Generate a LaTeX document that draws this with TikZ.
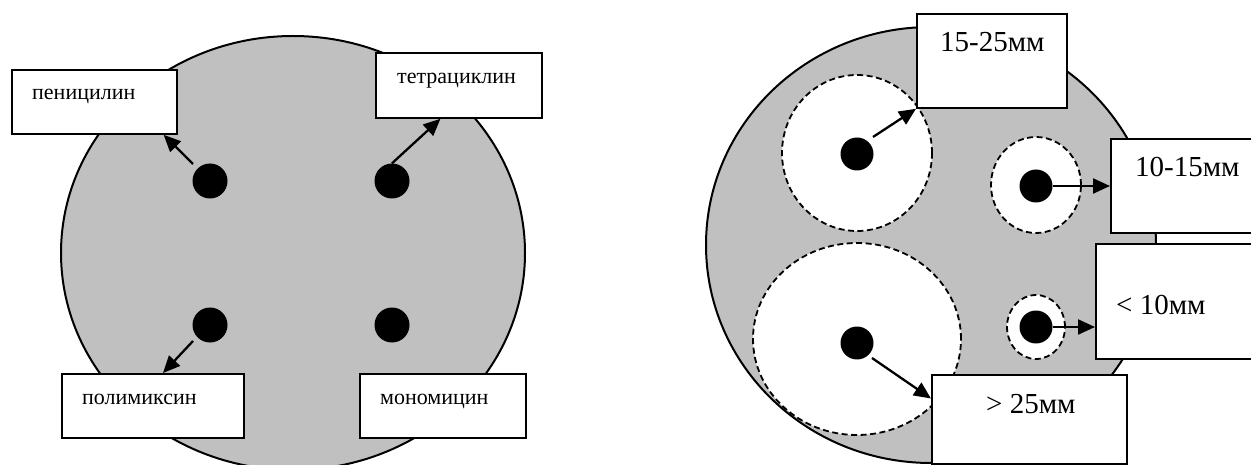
\documentclass[tikz,border=0pt]{standalone}
\usepackage{fontspec}
\setmainfont{Liberation Serif}
\usetikzlibrary{arrows.meta,calc}
\definecolor{dishgray}{HTML}{C0C0C0}
\begin{document}
\begin{tikzpicture}[x=1pt,y=-1pt,
  dish/.style={draw=black,line width=2pt,fill=dishgray},
  zone/.style={draw=black,fill=white,line width=1.8pt,dash pattern=on 6pt off 3.5pt},
  disc/.style={circle,fill=black,inner sep=0pt,minimum size=#1},
  labelbox/.style={draw=black,fill=white,line width=1.8pt,rectangle,inner sep=0pt,anchor=north west},
  small/.style={anchor=base west,inner sep=0pt,font=\fontsize{22}{26}\selectfont},
  big/.style={anchor=base west,inner sep=0pt,font=\fontsize{29}{34}\selectfont},
  pointer/.style={line width=2.3pt,-{Triangle[length=17pt,width=15pt]}}
]
\clip (0,0) rectangle (1251,465);

% ---------- left dish: four antibiotic discs ----------
\draw[dish] (293,253) ellipse [x radius=232pt, y radius=217pt];

\node[disc=35pt] (d1) at (210,181) {};
\node[disc=35pt] (d2) at (392,181) {};
\node[disc=35pt] (d3) at (210,325) {};
\node[disc=35pt] (d4) at (392,325) {};

\node[labelbox,minimum width=165pt,minimum height=64pt] (pen) at (11,69) {};
\node[labelbox,minimum width=166pt,minimum height=65pt] (tet) at (375,52) {};
\node[labelbox,minimum width=182pt,minimum height=64pt] (pol) at (61,373) {};
\node[labelbox,minimum width=166pt,minimum height=64pt] (mon) at (359,373) {};

\node[small] (tpen) at (32,100) {пеницилин};
\node[small] (ttet) at (397,84) {тетрациклин};
\node[small] (tpol) at (82,404) {полимиксин};
\node[small] (tmon) at (380,404) {мономицин};

\coordinate (s1) at ($(d1)+(-17,-17)$);
\coordinate (e1) at ($(pen.south west)!0.915!(pen.south east)$);
\coordinate (e2) at ($(tet.south west)!0.39!(tet.south east)$);
\coordinate (s3) at ($(d3)+(-17,16)$);
\coordinate (e3) at ($(pol.north west)!0.555!(pol.north east)$);
\draw[pointer] (s1) -- (e1);
\draw[pointer] (d2.north) -- (e2);
\draw[pointer] (s3) -- (e3);

% ---------- right dish: inhibition zones ----------
\draw[dish] (931,245) ellipse [x radius=225pt, y radius=218pt];

\draw[zone] (857,153) ellipse [x radius=75pt, y radius=78pt];
\draw[zone] (1036,185) ellipse [x radius=45pt, y radius=48pt];
\draw[zone] (857,339) ellipse [x radius=104pt, y radius=96pt];
\draw[zone] (1036,327) ellipse [x radius=29pt, y radius=32pt];

\node[disc=33pt] (d5) at (857,154) {};
\node[disc=33pt] (d6) at (1036,186) {};
\node[disc=33pt] (d7) at (857,343) {};
\node[disc=33pt] (d8) at (1036,327) {};

\node[labelbox,minimum width=150pt,minimum height=94pt] (b1) at (916,13) {};
\node[labelbox,minimum width=170pt,minimum height=94pt] (b2) at (1110,138) {};
\node[labelbox,minimum width=180pt,minimum height=115pt] (b3) at (1095,243) {};
\node[labelbox,minimum width=195pt,minimum height=89pt] (b4) at (931,374) {};

\node[big] (t1) at (940,52) {15-25мм};
\node[big] (t2) at (1135,177) {10-15мм};
\node[big] (t3) at (1116,314) {< 10мм};
\node[big] (t4) at (986,413) {> 25мм};

\coordinate (s5) at ($(d5)+(16,-17)$);
\coordinate (s7) at ($(d7)+(15,15)$);
\coordinate (e7) at ($(b4.north west)!0.27!(b4.south west)$);
\draw[pointer] (s5) -- (b1.south west);
\draw[pointer] (d6.east) -- (d6.east -| b2.west);
\draw[pointer] (d8.east) -- (d8.east -| b3.west);
\draw[pointer] (s7) -- (e7);
\end{tikzpicture}
\end{document}
